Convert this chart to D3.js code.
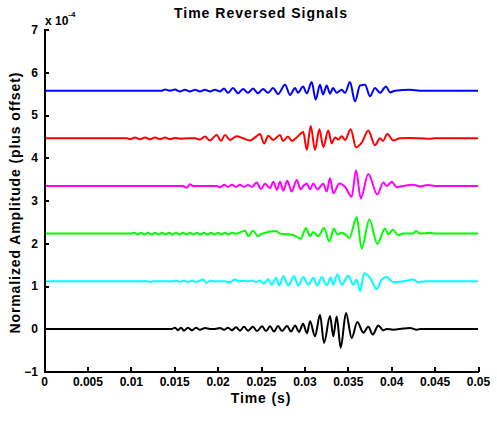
<!DOCTYPE html>
<html>
<head>
<meta charset="utf-8">
<title>Time Reversed Signals</title>
<script src="https://d3js.org/d3.v7.min.js"></script>
<style>
  body { margin: 0; background: #fff; }
  .axis path, .axis line { stroke: #000; stroke-width: 2; fill: none; shape-rendering: crispEdges; }
  .axis text { font-family: "Liberation Sans", Arial, sans-serif; font-size: 12px; font-weight: bold; fill: #000; }
  .lbl { font-family: "Liberation Sans", Arial, sans-serif; font-weight: bold; fill: #000; }
</style>
</head>
<body>
<script>
// time in ms, amplitude in units of 1e-4 (before offset)
var xTicks = [0, 5, 10, 15, 20, 25, 30, 35, 40, 45, 50];
var yTicks = [-1, 0, 1, 2, 3, 4, 5, 6, 7];
var offsets = [0, 1.114, 2.228, 3.342, 4.456, 5.57];
var colors = ["#000000", "#00ffff", "#00ff00", "#ff00ff", "#ff0000", "#0000ff"];

var sigBlack = [[0,0],[14.75,0],[15.09,0.03],[15.44,-0.03],[15.78,0.03],[16.13,-0.04],[16.59,0.03],[17.05,-0.03],[17.51,0.03],[17.97,-0.02],
  [18.55,0.02],[19.12,0],[19.70,0],[20.28,0.02],[20.74,-0.02],[21.20,0.03],[21.66,-0.03],[22.12,0.04],[22.58,-0.04],[23.04,0.05],[23.50,-0.04],
  [24.08,0.05],[24.54,-0.05],[25.12,0.06],[25.58,-0.05],[26.04,0.06],[26.50,-0.06],[26.96,0.07],[27.42,-0.05],[28.00,0.07],[28.46,-0.06],
  [28.92,0.08],[29.38,-0.07],[29.84,0.12],[30.30,-0.1],[30.65,0.18],[31.22,-0.17],[31.80,0.33],[32.26,-0.33],[32.95,0.3],[33.33,-0.17],
  [33.72,0.29],[34.18,-0.44],[34.79,0.37],[35.45,-0.21],[36.10,0.16],[36.79,-0.09],[37.36,0.05],[37.87,-0.13],[38.51,0.08],[39.09,-0.03],
  [39.48,0],[40.24,-0.02],[41.40,0.01],[42.17,0.02],[42.94,-0.02],[43.32,0],[50,0]];

var sigCyan = [[0,0],[11.98,0],[12.21,-0.02],[12.56,0],[14.86,0],[15.21,0.02],[15.67,-0.01],[16.13,0.02],[16.59,-0.02],[17.05,0.02],[17.51,-0.02],
  [17.97,0.02],[18.32,0.04],[18.74,-0.04],[19.12,0.02],[19.59,0],[20.85,0],[21.43,-0.02],[22.01,0.04],[22.47,0],[22.93,0.01],[23.50,0],
  [23.96,0.02],[24.42,-0.02],[24.89,0.02],[25.27,-0.05],[25.84,0.05],[26.23,-0.08],[26.73,0.08],[27.11,-0.1],[27.57,0.12],[28.15,-0.1],
  [28.80,0.12],[29.30,-0.1],[29.87,0.1],[30.45,-0.08],[31.03,0.08],[31.49,-0.1],[31.99,0.1],[32.57,-0.09],[33.03,0.08],[33.33,-0.08],
  [33.79,0.16],[34.30,-0.08],[35.06,0.13],[35.63,-0.08],[36.03,0.04],[36.41,-0.23],[36.90,0.19],[37.56,0.08],[38.33,-0.18],[38.91,0.04],
  [39.48,0.1],[40.24,-0.02],[41.40,0],[42.55,0.04],[43.09,-0.02],[43.90,0],[50,0]];

var sigGreen = [[0,0],[9.91,0],[10.37,0.02],[10.77,-0.02],[11.18,0.02],[11.58,-0.02],[11.98,0.02],[12.39,-0.02],[12.79,0.02],[13.19,-0.02],
  [13.59,0.02],[14.00,-0.02],[14.40,0.02],[14.80,-0.02],[15.21,0.02],[15.61,-0.02],[16.01,0.02],[16.42,-0.02],[16.82,0.02],[17.22,-0.02],
  [17.63,0.02],[18.03,-0.02],[18.43,0.02],[18.84,-0.02],[19.24,0.02],[19.64,-0.02],[20.05,0.02],[20.45,-0.02],[20.85,0.02],[21.26,-0.02],
  [21.66,0.02],[22.12,0],[23.16,0.07],[23.54,-0.06],[24.08,0.07],[24.65,-0.06],[25.12,0],[26.73,0.06],[27.19,0],[28.72,-0.03],[29.57,-0.12],
  [30.18,0.13],[30.65,-0.06],[31.03,0.04],[31.60,-0.06],[32.26,0.13],[32.87,-0.18],[33.41,0.12],[33.79,-0.02],[34.30,0.02],[34.68,-0.01],
  [35.17,-0.1],[36.03,0.38],[36.60,-0.35],[37.48,0.33],[38.40,-0.24],[39.29,0.12],[39.67,-0.02],[40.17,0.09],[40.82,-0.04],[41.36,0],
  [42.51,0],[42.86,0.06],[43.32,0],[44.47,0.02],[45.05,0],[50,0]];

var sigMagenta = [[0,0],[16.01,0],[16.44,-0.04],[16.82,0.04],[17.17,0],[19.90,0],[20.28,-0.03],[20.74,0.03],[21.20,-0.02],[21.66,0.03],
  [22.12,-0.02],[22.58,0.03],[23.04,-0.02],[23.50,0.02],[23.96,-0.02],[24.50,0.08],[25.00,-0.07],[25.46,0.05],[26.04,-0.05],[26.42,0.1],
  [26.84,-0.09],[27.19,0.1],[27.57,-0.11],[28.03,0.12],[28.54,-0.13],[29.11,0.14],[29.57,-0.08],[29.87,0],[30.27,0.06],[30.65,-0.08],
  [31.03,0.06],[31.49,-0.08],[32.18,0.05],[32.57,-0.13],[32.95,0.18],[33.33,-0.17],[34.02,0.06],[34.68,-0.02],[35.45,-0.25],[35.95,0.37],
  [36.49,-0.29],[37.36,0.28],[38.40,-0.2],[39.09,0.08],[39.48,0],[40.06,0.1],[40.63,-0.03],[41.36,0],[42.51,0.03],[43.32,-0.01],[44.24,0.02],
  [45.05,0],[50,0]];

var sigRed = [[0,0],[9.56,0],[9.91,-0.02],[10.48,0.02],[11.06,-0.02],[11.64,0.02],[12.21,-0.02],[12.79,0.02],[13.36,-0.02],[13.94,0.02],
  [14.52,-0.02],[15.09,0.01],[15.67,-0.01],[16.48,0],[17.40,0],[17.97,-0.03],[18.55,0.04],[19.12,-0.05],[19.90,0.08],[20.39,-0.06],
  [20.85,0.08],[21.43,-0.04],[22.20,0.05],[22.93,0],[23.73,-0.05],[24.31,0.02],[24.89,0.1],[25.35,-0.12],[25.84,0.06],[26.42,-0.04],
  [27.19,0.08],[27.54,-0.06],[28.11,0.04],[28.57,-0.06],[29.11,0.02],[29.87,0.15],[30.27,-0.27],[30.73,0.29],[31.22,-0.27],[31.72,0.21],
  [32.18,-0.2],[32.75,0.18],[33.15,-0.12],[33.53,0.02],[33.91,-0.03],[34.30,0.05],[34.68,-0.04],[35.33,0.21],[35.95,-0.21],[36.60,-0.1],
  [37.36,0.18],[38.13,-0.16],[38.71,0],[39.06,-0.06],[39.55,0.1],[40.24,-0.05],[41.01,0],[42.17,0.01],[43.32,0],[44.47,-0.01],[45.05,0],[50,0]];

var sigBlue = [[0,0],[13.59,0],[13.94,0.025],[14.52,0],[15.09,0.025],[15.67,-0.02],[16.24,0.02],[16.82,-0.02],[17.40,0.02],[17.97,-0.02],
  [18.55,0.02],[19.12,-0.02],[19.70,0.02],[20.28,-0.02],[20.74,0.05],[21.20,-0.05],[21.77,0.06],[22.35,-0.06],[22.93,0.04],[23.50,-0.05],
  [24.08,0.05],[24.65,-0.06],[25.23,0.04],[25.81,-0.05],[26.38,0.06],[26.96,-0.08],[27.77,0.14],[28.34,-0.1],[28.92,0.06],[29.26,-0.05],
  [29.84,0.1],[30.27,-0.06],[30.84,0.2],[31.30,-0.21],[31.80,0.14],[32.14,-0.09],[32.57,0.12],[32.95,-0.07],[33.30,0.06],[33.72,-0.05],
  [34.30,0.02],[34.68,-0.05],[35.25,0.2],[35.83,-0.25],[36.41,0.12],[36.98,0.14],[37.56,-0.13],[38.13,0.06],[38.71,-0.05],[39.40,0.1],
  [39.86,-0.04],[40.44,0],[42.17,0.02],[43.32,0],[50,0]];

var signals = [sigBlack, sigCyan, sigGreen, sigMagenta, sigRed, sigBlue];

var w = 497, h = 424;
var padL = 44, padR = 478, padT = 29.5, padB = 371.7;

var svg = d3.select("body").append("svg")
  .attr("width", w)
  .attr("height", h);

var xScale = d3.scaleLinear().domain([0, 50]).range([padL, padR]);
var yScale = d3.scaleLinear().domain([-1, 7]).range([padB, padT]);

var line = d3.line()
  .x(function(d){ return xScale(d[0]); })
  .y(function(d){ return yScale(d[1]); })
  .curve(d3.curveMonotoneX);

// signals
signals.forEach(function(sig, i){
  svg.append("path")
    .datum(sig.map(function(p){ return [p[0], p[1] + offsets[i]]; }))
    .attr("d", line)
    .attr("fill", "none")
    .attr("stroke", colors[i])
    .attr("stroke-width", 2);
});

// axes
var xAxis = d3.axisBottom(xScale)
  .tickValues(xTicks)
  .tickSizeInner(-5)
  .tickSizeOuter(0)
  .tickPadding(6)
  .tickFormat(function(d){ return String(d / 1000); });
svg.append("g")
  .attr("class", "axis")
  .attr("transform", "translate(0," + padB + ")")
  .call(xAxis);

var yAxis = d3.axisLeft(yScale)
  .tickValues(yTicks)
  .tickSizeInner(-5)
  .tickSizeOuter(0)
  .tickPadding(6);
svg.append("g")
  .attr("class", "axis")
  .attr("transform", "translate(" + padL + ",0)")
  .call(yAxis);

// title + labels
svg.append("text")
  .attr("class", "lbl")
  .attr("x", (padL + padR) / 2)
  .attr("y", 18)
  .attr("text-anchor", "middle")
  .attr("font-size", "14px")
  .attr("letter-spacing", "1px")
  .text("Time Reversed Signals");

svg.append("text")
  .attr("class", "lbl")
  .attr("x", (padL + padR) / 2)
  .attr("y", 403)
  .attr("text-anchor", "middle")
  .attr("font-size", "14px")
  .attr("letter-spacing", "0.9px")
  .text("Time (s)");

svg.append("text")
  .attr("class", "lbl")
  .attr("transform", "translate(20," + ((padT + padB) / 2 + 2) + ") rotate(-90)")
  .attr("text-anchor", "middle")
  .attr("font-size", "14px")
  .attr("letter-spacing", "0.9px")
  .text("Normalized Amplitude (plus offset)");

var mult = svg.append("text")
  .attr("class", "lbl")
  .attr("x", 45)
  .attr("y", 25)
  .attr("font-size", "12px")
  .text("x 10");
mult.append("tspan")
  .attr("font-size", "8px")
  .attr("dy", -8)
  .text("-4");
</script>
</body>
</html>
